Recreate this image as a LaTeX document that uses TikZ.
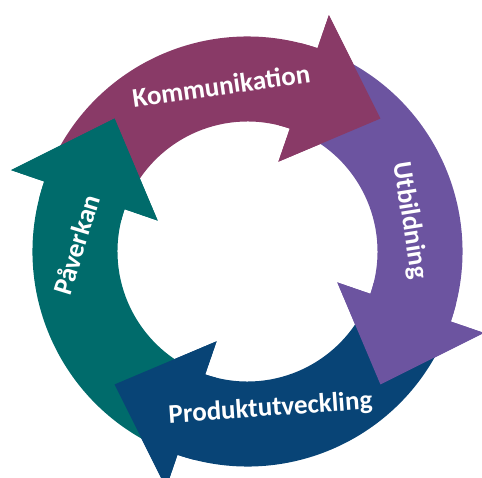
\documentclass[tikz,border=0pt]{standalone}
\usepackage{fontspec}
\setmainfont{Carlito}
\definecolor{kommcol}{RGB}{137,58,103}
\definecolor{utbcol}{RGB}{108,84,160}
\definecolor{prodcol}{RGB}{8,68,118}
\definecolor{pavcol}{RGB}{0,107,107}

% One curved arrow of the cycle: body from 155 deg (tail) clockwise to 71 deg,
% head from the 71 deg base to its tip at 45 deg.
\newcommand\arrowfull{(155:215) arc[start angle=155,end angle=71,radius=215]
  -- (71:250) -- (45:188) -- (71:95) -- (71:130)
  arc[start angle=71,end angle=155,radius=130] -- cycle}
\newcommand\arrowhead{(76:215) arc[start angle=76,end angle=71,radius=215]
  -- (71:250) -- (45:188) -- (71:95) -- (71:130)
  arc[start angle=71,end angle=76,radius=130] -- cycle}

\tikzset{
  label text/.style={font=\bfseries\fontsize{27}{30}\selectfont, text=white,
    inner sep=0pt, anchor=base}
}

\begin{document}
\begin{tikzpicture}[x=1pt,y=1pt]
\useasboundingbox (-247.5,-225.5) rectangle (234.5,251.5);

% bodies first
\fill[kommcol] \arrowfull;
\begin{scope}[rotate=-90] \fill[utbcol] \arrowfull; \end{scope}
\begin{scope}[rotate=-180] \fill[prodcol] \arrowfull; \end{scope}
\begin{scope}[rotate=90] \fill[pavcol] \arrowfull; \end{scope}

% heads on top of the following tails
\fill[kommcol] \arrowhead;
\begin{scope}[rotate=-90] \fill[utbcol] \arrowhead; \end{scope}
\begin{scope}[rotate=-180] \fill[prodcol] \arrowhead; \end{scope}
\begin{scope}[rotate=90] \fill[pavcol] \arrowhead; \end{scope}

% labels
\node[label text, rotate=8] (komm) at (-25,156.8) {Kommunikation};
\node[label text, rotate=-81] (utb) at (155.2,30) {Utbildning};
\node[label text, rotate=4] (prod) at (23.5,-164.5) {Produktutveckling};
\node[label text, rotate=73] (pav) at (-162.2,4) {Påverkan};
\end{tikzpicture}
\end{document}
